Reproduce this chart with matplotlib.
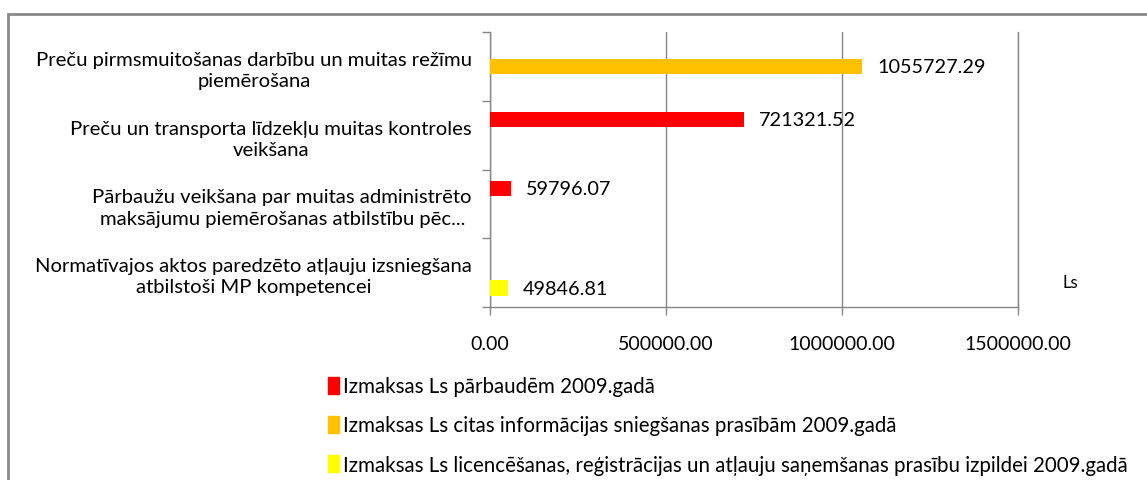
import numpy as np
import matplotlib
matplotlib.use('Agg')
import matplotlib.pyplot as plt
from matplotlib.patches import Rectangle, Patch

plt.rcParams['font.family'] = ['Lato', 'DejaVu Sans']

# data
categories = ['Preču pirmsmuitošanas darbību un muitas režīmu\npiemērošana',
              'Preču un transporta līdzekļu muitas kontroles\nveikšana',
              'Pārbaužu veikšana par muitas administrēto\nmaksājumu piemērošanas atbilstību pēc...',
              'Normatīvajos aktos paredzēto atļauju izsniegšana\natbilstoši MP kompetencei']
series_names = ['Izmaksas Ls pārbaudēm 2009.gadā',
                'Izmaksas Ls citas informācijas sniegšanas prasībām 2009.gadā',
                'Izmaksas Ls licencēšanas, reģistrācijas un atļauju saņemšanas prasību izpildei 2009.gadā']
parbaudes = [np.nan, 721321.52, 59796.07, np.nan]
informacija = [1055727.29, np.nan, np.nan, np.nan]
licences = [np.nan, np.nan, np.nan, 49846.81]
colors = ['#ff0000', '#ffc000', '#ffff00']
xticks = [0, 500000, 1000000, 1500000]

fig = plt.figure(figsize=(11.47, 4.81), dpi=100)
ax = fig.add_axes([490 / 1147, 1 - 308 / 481, 528 / 1147, 275 / 481])

y = np.arange(len(categories))
h = 0.225
for vals, off, c in zip([parbaudes, informacija, licences], [-h, 0, h], colors):
    bars = ax.barh(y + off, vals, height=h, color=c, zorder=3)
    for b, v in zip(bars, vals):
        if not np.isnan(v):
            ax.annotate('%.2f' % v, (v, b.get_y() + h / 2), xytext=(11, 0),
                        textcoords='offset points', va='center', ha='left', fontsize=14.3)

ax.set_xlim(0, 1500000)
ax.set_ylim(3.5, -0.5)
ax.set_xticks(xticks)
ax.set_xticklabels(['%.2f' % t for t in xticks], fontsize=14)
ax.set_yticks(y)
ax.set_yticklabels(categories, fontsize=14.6, multialignment='center', linespacing=1.3)
ax.set_yticks(np.arange(-0.5, 4, 1), minor=True)
ax.tick_params(axis='y', which='major', length=0, pad=13)
ax.tick_params(axis='y', which='minor', length=6, color='#868686', width=1)
ax.tick_params(axis='x', length=6, color='#868686', width=1, pad=14)
ax.grid(axis='x', color='#868686', linewidth=1, zorder=0)
ax.spines['top'].set_visible(False)
for s in ['left', 'bottom', 'right']:
    ax.spines[s].set_color('#868686')
    ax.spines[s].set_linewidth(1)

fig.text(1062 / 1147, 1 - 283 / 481, 'Ls', fontsize=12, va='center', ha='left')

handles = [Patch(color=c) for c in colors]
fig.legend(handles, series_names, loc='upper left', bbox_to_anchor=(318 / 1147, 1 - 367 / 481),
           frameon=False, fontsize=14.8, handlelength=0.5, handleheight=0.9,
           handletextpad=0.2, labelspacing=0.93, borderpad=0)

fig.add_artist(Rectangle((8 / 1147, -0.1), 1.1, 1.1 - 15 / 481, transform=fig.transFigure,
                         fill=False, edgecolor='#898989', linewidth=2))

fig.savefig('out.png', dpi=100)
